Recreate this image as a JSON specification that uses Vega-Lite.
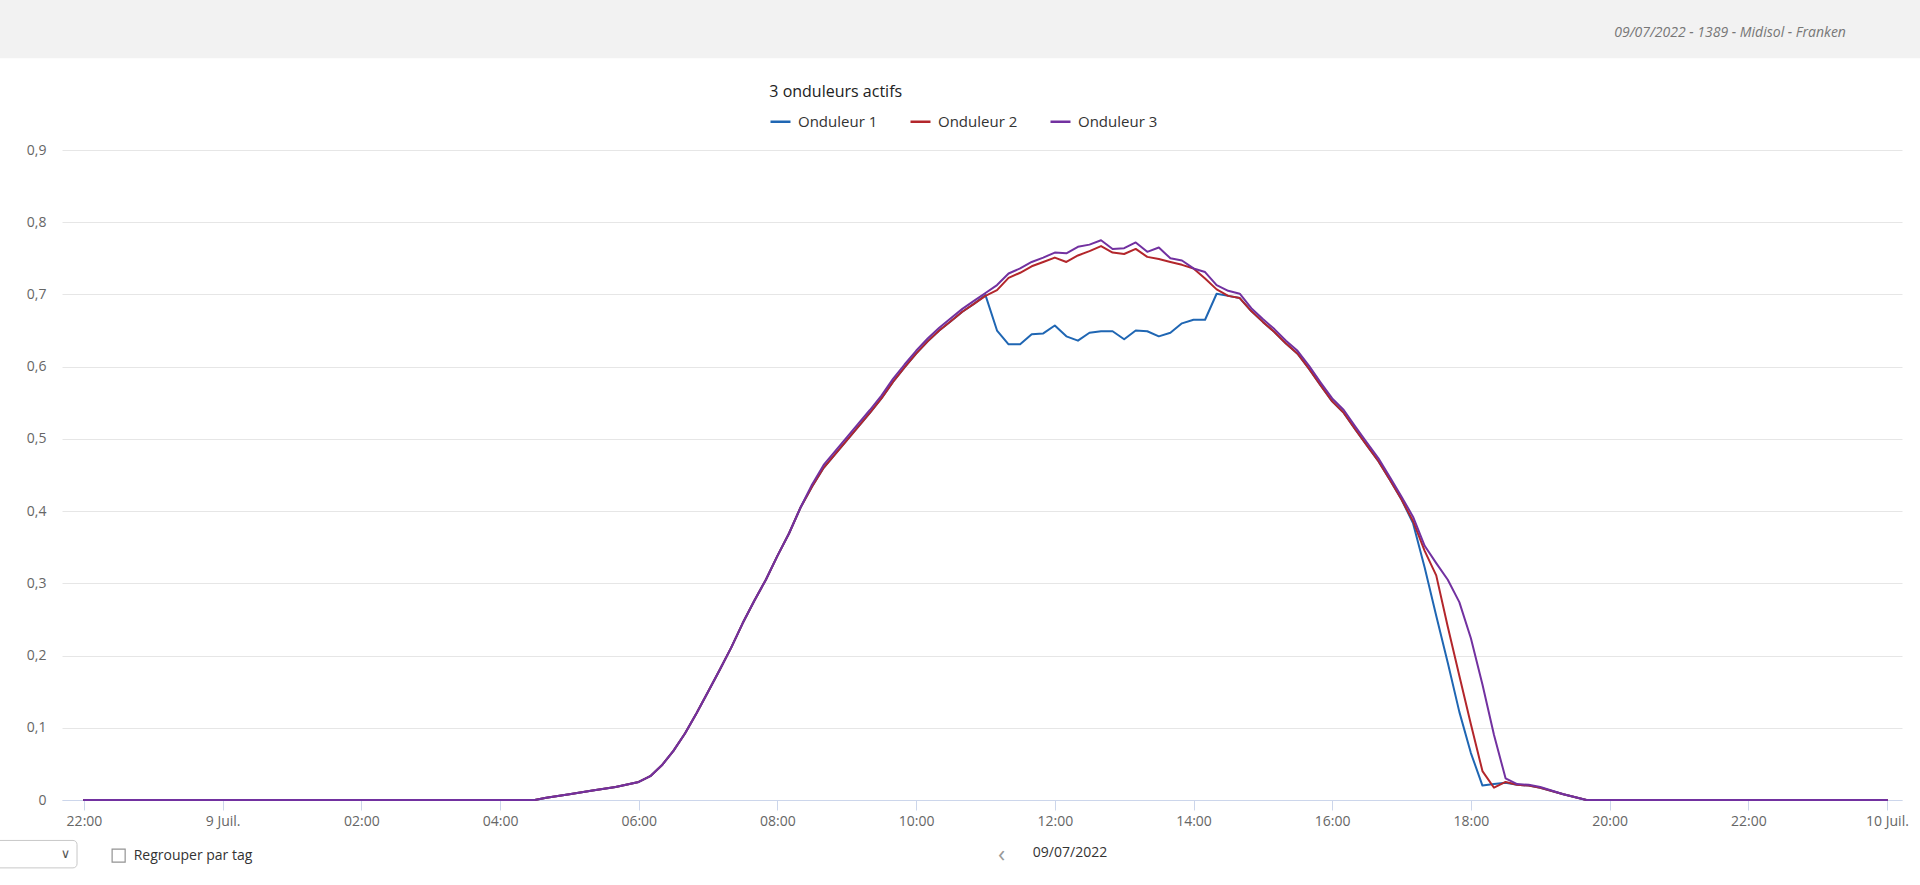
{
  "$schema": "https://vega.github.io/schema/vega-lite/v6.json",
  "width": 1840,
  "height": 650,
  "autosize": {"type": "none"},
  "padding": {"left": 62, "top": 150, "right": 18, "bottom": 85},
  "background": "white",
  "config": {
    "view": {"stroke": null},
    "font": "Open Sans",
    "locale": {
      "number": {"decimal": ",", "thousands": " ", "grouping": [3], "currency": ["", " €"]},
      "time": {
        "dateTime": "%A %e %B %Y à %X",
        "date": "%d/%m/%Y",
        "time": "%H:%M:%S",
        "periods": ["AM", "PM"],
        "days": ["dimanche", "lundi", "mardi", "mercredi", "jeudi", "vendredi", "samedi"],
        "shortDays": ["dim.", "lun.", "mar.", "mer.", "jeu.", "ven.", "sam."],
        "months": ["janvier", "février", "mars", "avril", "mai", "juin", "juillet", "août", "septembre", "octobre", "novembre", "décembre"],
        "shortMonths": ["Janv.", "Févr.", "Mars", "Avr.", "Mai", "Juin", "Juil.", "Août", "Sept.", "Oct.", "Nov.", "Déc."]
      }
    }
  },
  "data": {"values": [
    {"t": "2022-07-08T22:00Z", "s": "Onduleur 1", "v": 0},
    {"t": "2022-07-09T04:30Z", "s": "Onduleur 1", "v": 0},
    {"t": "2022-07-09T04:40Z", "s": "Onduleur 1", "v": 0.003},
    {"t": "2022-07-09T05:00Z", "s": "Onduleur 1", "v": 0.008},
    {"t": "2022-07-09T05:20Z", "s": "Onduleur 1", "v": 0.013},
    {"t": "2022-07-09T05:40Z", "s": "Onduleur 1", "v": 0.018},
    {"t": "2022-07-09T06:00Z", "s": "Onduleur 1", "v": 0.025},
    {"t": "2022-07-09T06:10Z", "s": "Onduleur 1", "v": 0.033},
    {"t": "2022-07-09T06:20Z", "s": "Onduleur 1", "v": 0.048},
    {"t": "2022-07-09T06:30Z", "s": "Onduleur 1", "v": 0.068},
    {"t": "2022-07-09T06:40Z", "s": "Onduleur 1", "v": 0.092},
    {"t": "2022-07-09T06:50Z", "s": "Onduleur 1", "v": 0.120},
    {"t": "2022-07-09T07:00Z", "s": "Onduleur 1", "v": 0.150},
    {"t": "2022-07-09T07:10Z", "s": "Onduleur 1", "v": 0.180},
    {"t": "2022-07-09T07:20Z", "s": "Onduleur 1", "v": 0.211},
    {"t": "2022-07-09T07:30Z", "s": "Onduleur 1", "v": 0.245},
    {"t": "2022-07-09T07:40Z", "s": "Onduleur 1", "v": 0.276},
    {"t": "2022-07-09T07:50Z", "s": "Onduleur 1", "v": 0.305},
    {"t": "2022-07-09T08:00Z", "s": "Onduleur 1", "v": 0.338},
    {"t": "2022-07-09T08:10Z", "s": "Onduleur 1", "v": 0.369},
    {"t": "2022-07-09T08:20Z", "s": "Onduleur 1", "v": 0.405},
    {"t": "2022-07-09T08:30Z", "s": "Onduleur 1", "v": 0.434},
    {"t": "2022-07-09T08:40Z", "s": "Onduleur 1", "v": 0.460},
    {"t": "2022-07-09T08:50Z", "s": "Onduleur 1", "v": 0.479},
    {"t": "2022-07-09T09:00Z", "s": "Onduleur 1", "v": 0.498},
    {"t": "2022-07-09T09:10Z", "s": "Onduleur 1", "v": 0.517},
    {"t": "2022-07-09T09:20Z", "s": "Onduleur 1", "v": 0.536},
    {"t": "2022-07-09T09:30Z", "s": "Onduleur 1", "v": 0.556},
    {"t": "2022-07-09T09:40Z", "s": "Onduleur 1", "v": 0.579},
    {"t": "2022-07-09T09:50Z", "s": "Onduleur 1", "v": 0.599},
    {"t": "2022-07-09T10:00Z", "s": "Onduleur 1", "v": 0.618},
    {"t": "2022-07-09T10:10Z", "s": "Onduleur 1", "v": 0.635},
    {"t": "2022-07-09T10:20Z", "s": "Onduleur 1", "v": 0.650},
    {"t": "2022-07-09T10:30Z", "s": "Onduleur 1", "v": 0.663},
    {"t": "2022-07-09T10:40Z", "s": "Onduleur 1", "v": 0.676},
    {"t": "2022-07-09T10:50Z", "s": "Onduleur 1", "v": 0.687},
    {"t": "2022-07-09T11:00Z", "s": "Onduleur 1", "v": 0.699},
    {"t": "2022-07-09T11:10Z", "s": "Onduleur 1", "v": 0.650},
    {"t": "2022-07-09T11:20Z", "s": "Onduleur 1", "v": 0.631},
    {"t": "2022-07-09T11:30Z", "s": "Onduleur 1", "v": 0.631},
    {"t": "2022-07-09T11:40Z", "s": "Onduleur 1", "v": 0.645},
    {"t": "2022-07-09T11:50Z", "s": "Onduleur 1", "v": 0.646},
    {"t": "2022-07-09T12:00Z", "s": "Onduleur 1", "v": 0.657},
    {"t": "2022-07-09T12:10Z", "s": "Onduleur 1", "v": 0.642},
    {"t": "2022-07-09T12:20Z", "s": "Onduleur 1", "v": 0.636},
    {"t": "2022-07-09T12:30Z", "s": "Onduleur 1", "v": 0.647},
    {"t": "2022-07-09T12:40Z", "s": "Onduleur 1", "v": 0.649},
    {"t": "2022-07-09T12:50Z", "s": "Onduleur 1", "v": 0.649},
    {"t": "2022-07-09T13:00Z", "s": "Onduleur 1", "v": 0.638},
    {"t": "2022-07-09T13:10Z", "s": "Onduleur 1", "v": 0.650},
    {"t": "2022-07-09T13:20Z", "s": "Onduleur 1", "v": 0.649},
    {"t": "2022-07-09T13:30Z", "s": "Onduleur 1", "v": 0.642},
    {"t": "2022-07-09T13:40Z", "s": "Onduleur 1", "v": 0.647},
    {"t": "2022-07-09T13:50Z", "s": "Onduleur 1", "v": 0.660},
    {"t": "2022-07-09T14:00Z", "s": "Onduleur 1", "v": 0.665},
    {"t": "2022-07-09T14:10Z", "s": "Onduleur 1", "v": 0.665},
    {"t": "2022-07-09T14:20Z", "s": "Onduleur 1", "v": 0.701},
    {"t": "2022-07-09T14:30Z", "s": "Onduleur 1", "v": 0.698},
    {"t": "2022-07-09T14:40Z", "s": "Onduleur 1", "v": 0.695},
    {"t": "2022-07-09T14:50Z", "s": "Onduleur 1", "v": 0.677},
    {"t": "2022-07-09T15:00Z", "s": "Onduleur 1", "v": 0.662},
    {"t": "2022-07-09T15:10Z", "s": "Onduleur 1", "v": 0.648},
    {"t": "2022-07-09T15:20Z", "s": "Onduleur 1", "v": 0.632},
    {"t": "2022-07-09T15:30Z", "s": "Onduleur 1", "v": 0.618},
    {"t": "2022-07-09T15:40Z", "s": "Onduleur 1", "v": 0.597},
    {"t": "2022-07-09T15:50Z", "s": "Onduleur 1", "v": 0.574},
    {"t": "2022-07-09T16:00Z", "s": "Onduleur 1", "v": 0.552},
    {"t": "2022-07-09T16:10Z", "s": "Onduleur 1", "v": 0.536},
    {"t": "2022-07-09T16:20Z", "s": "Onduleur 1", "v": 0.513},
    {"t": "2022-07-09T16:30Z", "s": "Onduleur 1", "v": 0.491},
    {"t": "2022-07-09T16:40Z", "s": "Onduleur 1", "v": 0.469},
    {"t": "2022-07-09T16:50Z", "s": "Onduleur 1", "v": 0.443},
    {"t": "2022-07-09T17:00Z", "s": "Onduleur 1", "v": 0.416},
    {"t": "2022-07-09T17:10Z", "s": "Onduleur 1", "v": 0.383},
    {"t": "2022-07-09T17:20Z", "s": "Onduleur 1", "v": 0.322},
    {"t": "2022-07-09T17:30Z", "s": "Onduleur 1", "v": 0.255},
    {"t": "2022-07-09T17:40Z", "s": "Onduleur 1", "v": 0.190},
    {"t": "2022-07-09T17:50Z", "s": "Onduleur 1", "v": 0.122},
    {"t": "2022-07-09T18:00Z", "s": "Onduleur 1", "v": 0.065},
    {"t": "2022-07-09T18:10Z", "s": "Onduleur 1", "v": 0.020},
    {"t": "2022-07-09T18:20Z", "s": "Onduleur 1", "v": 0.022},
    {"t": "2022-07-09T18:30Z", "s": "Onduleur 1", "v": 0.024},
    {"t": "2022-07-09T18:40Z", "s": "Onduleur 1", "v": 0.021},
    {"t": "2022-07-09T18:50Z", "s": "Onduleur 1", "v": 0.020},
    {"t": "2022-07-09T19:00Z", "s": "Onduleur 1", "v": 0.017},
    {"t": "2022-07-09T19:20Z", "s": "Onduleur 1", "v": 0.008},
    {"t": "2022-07-09T19:40Z", "s": "Onduleur 1", "v": 0},
    {"t": "2022-07-10T00:00Z", "s": "Onduleur 1", "v": 0},
    {"t": "2022-07-08T22:00Z", "s": "Onduleur 2", "v": 0},
    {"t": "2022-07-09T04:30Z", "s": "Onduleur 2", "v": 0},
    {"t": "2022-07-09T04:40Z", "s": "Onduleur 2", "v": 0.003},
    {"t": "2022-07-09T05:00Z", "s": "Onduleur 2", "v": 0.008},
    {"t": "2022-07-09T05:20Z", "s": "Onduleur 2", "v": 0.013},
    {"t": "2022-07-09T05:40Z", "s": "Onduleur 2", "v": 0.018},
    {"t": "2022-07-09T06:00Z", "s": "Onduleur 2", "v": 0.025},
    {"t": "2022-07-09T06:10Z", "s": "Onduleur 2", "v": 0.033},
    {"t": "2022-07-09T06:20Z", "s": "Onduleur 2", "v": 0.048},
    {"t": "2022-07-09T06:30Z", "s": "Onduleur 2", "v": 0.068},
    {"t": "2022-07-09T06:40Z", "s": "Onduleur 2", "v": 0.092},
    {"t": "2022-07-09T06:50Z", "s": "Onduleur 2", "v": 0.120},
    {"t": "2022-07-09T07:00Z", "s": "Onduleur 2", "v": 0.150},
    {"t": "2022-07-09T07:10Z", "s": "Onduleur 2", "v": 0.180},
    {"t": "2022-07-09T07:20Z", "s": "Onduleur 2", "v": 0.211},
    {"t": "2022-07-09T07:30Z", "s": "Onduleur 2", "v": 0.245},
    {"t": "2022-07-09T07:40Z", "s": "Onduleur 2", "v": 0.276},
    {"t": "2022-07-09T07:50Z", "s": "Onduleur 2", "v": 0.305},
    {"t": "2022-07-09T08:00Z", "s": "Onduleur 2", "v": 0.338},
    {"t": "2022-07-09T08:10Z", "s": "Onduleur 2", "v": 0.369},
    {"t": "2022-07-09T08:20Z", "s": "Onduleur 2", "v": 0.405},
    {"t": "2022-07-09T08:30Z", "s": "Onduleur 2", "v": 0.434},
    {"t": "2022-07-09T08:40Z", "s": "Onduleur 2", "v": 0.460},
    {"t": "2022-07-09T08:50Z", "s": "Onduleur 2", "v": 0.479},
    {"t": "2022-07-09T09:00Z", "s": "Onduleur 2", "v": 0.498},
    {"t": "2022-07-09T09:10Z", "s": "Onduleur 2", "v": 0.517},
    {"t": "2022-07-09T09:20Z", "s": "Onduleur 2", "v": 0.536},
    {"t": "2022-07-09T09:30Z", "s": "Onduleur 2", "v": 0.556},
    {"t": "2022-07-09T09:40Z", "s": "Onduleur 2", "v": 0.579},
    {"t": "2022-07-09T09:50Z", "s": "Onduleur 2", "v": 0.599},
    {"t": "2022-07-09T10:00Z", "s": "Onduleur 2", "v": 0.618},
    {"t": "2022-07-09T10:10Z", "s": "Onduleur 2", "v": 0.635},
    {"t": "2022-07-09T10:20Z", "s": "Onduleur 2", "v": 0.650},
    {"t": "2022-07-09T10:30Z", "s": "Onduleur 2", "v": 0.663},
    {"t": "2022-07-09T10:40Z", "s": "Onduleur 2", "v": 0.676},
    {"t": "2022-07-09T10:50Z", "s": "Onduleur 2", "v": 0.687},
    {"t": "2022-07-09T11:00Z", "s": "Onduleur 2", "v": 0.698},
    {"t": "2022-07-09T11:10Z", "s": "Onduleur 2", "v": 0.706},
    {"t": "2022-07-09T11:20Z", "s": "Onduleur 2", "v": 0.723},
    {"t": "2022-07-09T11:30Z", "s": "Onduleur 2", "v": 0.730},
    {"t": "2022-07-09T11:40Z", "s": "Onduleur 2", "v": 0.739},
    {"t": "2022-07-09T11:50Z", "s": "Onduleur 2", "v": 0.745},
    {"t": "2022-07-09T12:00Z", "s": "Onduleur 2", "v": 0.751},
    {"t": "2022-07-09T12:10Z", "s": "Onduleur 2", "v": 0.745},
    {"t": "2022-07-09T12:20Z", "s": "Onduleur 2", "v": 0.754},
    {"t": "2022-07-09T12:30Z", "s": "Onduleur 2", "v": 0.760},
    {"t": "2022-07-09T12:40Z", "s": "Onduleur 2", "v": 0.767},
    {"t": "2022-07-09T12:50Z", "s": "Onduleur 2", "v": 0.758},
    {"t": "2022-07-09T13:00Z", "s": "Onduleur 2", "v": 0.756},
    {"t": "2022-07-09T13:10Z", "s": "Onduleur 2", "v": 0.763},
    {"t": "2022-07-09T13:20Z", "s": "Onduleur 2", "v": 0.752},
    {"t": "2022-07-09T13:30Z", "s": "Onduleur 2", "v": 0.749},
    {"t": "2022-07-09T13:40Z", "s": "Onduleur 2", "v": 0.745},
    {"t": "2022-07-09T13:50Z", "s": "Onduleur 2", "v": 0.741},
    {"t": "2022-07-09T14:00Z", "s": "Onduleur 2", "v": 0.736},
    {"t": "2022-07-09T14:10Z", "s": "Onduleur 2", "v": 0.722},
    {"t": "2022-07-09T14:20Z", "s": "Onduleur 2", "v": 0.707},
    {"t": "2022-07-09T14:30Z", "s": "Onduleur 2", "v": 0.698},
    {"t": "2022-07-09T14:40Z", "s": "Onduleur 2", "v": 0.695},
    {"t": "2022-07-09T14:50Z", "s": "Onduleur 2", "v": 0.677},
    {"t": "2022-07-09T15:00Z", "s": "Onduleur 2", "v": 0.662},
    {"t": "2022-07-09T15:10Z", "s": "Onduleur 2", "v": 0.648},
    {"t": "2022-07-09T15:20Z", "s": "Onduleur 2", "v": 0.632},
    {"t": "2022-07-09T15:30Z", "s": "Onduleur 2", "v": 0.618},
    {"t": "2022-07-09T15:40Z", "s": "Onduleur 2", "v": 0.597},
    {"t": "2022-07-09T15:50Z", "s": "Onduleur 2", "v": 0.574},
    {"t": "2022-07-09T16:00Z", "s": "Onduleur 2", "v": 0.552},
    {"t": "2022-07-09T16:10Z", "s": "Onduleur 2", "v": 0.536},
    {"t": "2022-07-09T16:20Z", "s": "Onduleur 2", "v": 0.513},
    {"t": "2022-07-09T16:30Z", "s": "Onduleur 2", "v": 0.491},
    {"t": "2022-07-09T16:40Z", "s": "Onduleur 2", "v": 0.469},
    {"t": "2022-07-09T16:50Z", "s": "Onduleur 2", "v": 0.443},
    {"t": "2022-07-09T17:00Z", "s": "Onduleur 2", "v": 0.416},
    {"t": "2022-07-09T17:10Z", "s": "Onduleur 2", "v": 0.386},
    {"t": "2022-07-09T17:20Z", "s": "Onduleur 2", "v": 0.345},
    {"t": "2022-07-09T17:30Z", "s": "Onduleur 2", "v": 0.311},
    {"t": "2022-07-09T17:40Z", "s": "Onduleur 2", "v": 0.240},
    {"t": "2022-07-09T17:50Z", "s": "Onduleur 2", "v": 0.172},
    {"t": "2022-07-09T18:00Z", "s": "Onduleur 2", "v": 0.105},
    {"t": "2022-07-09T18:10Z", "s": "Onduleur 2", "v": 0.040},
    {"t": "2022-07-09T18:20Z", "s": "Onduleur 2", "v": 0.017},
    {"t": "2022-07-09T18:30Z", "s": "Onduleur 2", "v": 0.025},
    {"t": "2022-07-09T18:40Z", "s": "Onduleur 2", "v": 0.021},
    {"t": "2022-07-09T18:50Z", "s": "Onduleur 2", "v": 0.020},
    {"t": "2022-07-09T19:00Z", "s": "Onduleur 2", "v": 0.017},
    {"t": "2022-07-09T19:20Z", "s": "Onduleur 2", "v": 0.008},
    {"t": "2022-07-09T19:40Z", "s": "Onduleur 2", "v": 0},
    {"t": "2022-07-10T00:00Z", "s": "Onduleur 2", "v": 0},
    {"t": "2022-07-08T22:00Z", "s": "Onduleur 3", "v": 0},
    {"t": "2022-07-09T04:30Z", "s": "Onduleur 3", "v": 0},
    {"t": "2022-07-09T04:40Z", "s": "Onduleur 3", "v": 0.003},
    {"t": "2022-07-09T05:00Z", "s": "Onduleur 3", "v": 0.008},
    {"t": "2022-07-09T05:20Z", "s": "Onduleur 3", "v": 0.013},
    {"t": "2022-07-09T05:40Z", "s": "Onduleur 3", "v": 0.018},
    {"t": "2022-07-09T06:00Z", "s": "Onduleur 3", "v": 0.025},
    {"t": "2022-07-09T06:10Z", "s": "Onduleur 3", "v": 0.033},
    {"t": "2022-07-09T06:20Z", "s": "Onduleur 3", "v": 0.048},
    {"t": "2022-07-09T06:30Z", "s": "Onduleur 3", "v": 0.068},
    {"t": "2022-07-09T06:40Z", "s": "Onduleur 3", "v": 0.092},
    {"t": "2022-07-09T06:50Z", "s": "Onduleur 3", "v": 0.120},
    {"t": "2022-07-09T07:00Z", "s": "Onduleur 3", "v": 0.150},
    {"t": "2022-07-09T07:10Z", "s": "Onduleur 3", "v": 0.180},
    {"t": "2022-07-09T07:20Z", "s": "Onduleur 3", "v": 0.211},
    {"t": "2022-07-09T07:30Z", "s": "Onduleur 3", "v": 0.245},
    {"t": "2022-07-09T07:40Z", "s": "Onduleur 3", "v": 0.276},
    {"t": "2022-07-09T07:50Z", "s": "Onduleur 3", "v": 0.305},
    {"t": "2022-07-09T08:00Z", "s": "Onduleur 3", "v": 0.338},
    {"t": "2022-07-09T08:10Z", "s": "Onduleur 3", "v": 0.369},
    {"t": "2022-07-09T08:20Z", "s": "Onduleur 3", "v": 0.405},
    {"t": "2022-07-09T08:30Z", "s": "Onduleur 3", "v": 0.437},
    {"t": "2022-07-09T08:40Z", "s": "Onduleur 3", "v": 0.464},
    {"t": "2022-07-09T08:50Z", "s": "Onduleur 3", "v": 0.483},
    {"t": "2022-07-09T09:00Z", "s": "Onduleur 3", "v": 0.502},
    {"t": "2022-07-09T09:10Z", "s": "Onduleur 3", "v": 0.521},
    {"t": "2022-07-09T09:20Z", "s": "Onduleur 3", "v": 0.540},
    {"t": "2022-07-09T09:30Z", "s": "Onduleur 3", "v": 0.560},
    {"t": "2022-07-09T09:40Z", "s": "Onduleur 3", "v": 0.583},
    {"t": "2022-07-09T09:50Z", "s": "Onduleur 3", "v": 0.603},
    {"t": "2022-07-09T10:00Z", "s": "Onduleur 3", "v": 0.622},
    {"t": "2022-07-09T10:10Z", "s": "Onduleur 3", "v": 0.639},
    {"t": "2022-07-09T10:20Z", "s": "Onduleur 3", "v": 0.654},
    {"t": "2022-07-09T10:30Z", "s": "Onduleur 3", "v": 0.667},
    {"t": "2022-07-09T10:40Z", "s": "Onduleur 3", "v": 0.680},
    {"t": "2022-07-09T10:50Z", "s": "Onduleur 3", "v": 0.691},
    {"t": "2022-07-09T11:00Z", "s": "Onduleur 3", "v": 0.702},
    {"t": "2022-07-09T11:10Z", "s": "Onduleur 3", "v": 0.713},
    {"t": "2022-07-09T11:20Z", "s": "Onduleur 3", "v": 0.729},
    {"t": "2022-07-09T11:30Z", "s": "Onduleur 3", "v": 0.736},
    {"t": "2022-07-09T11:40Z", "s": "Onduleur 3", "v": 0.745},
    {"t": "2022-07-09T11:50Z", "s": "Onduleur 3", "v": 0.751},
    {"t": "2022-07-09T12:00Z", "s": "Onduleur 3", "v": 0.758},
    {"t": "2022-07-09T12:10Z", "s": "Onduleur 3", "v": 0.757},
    {"t": "2022-07-09T12:20Z", "s": "Onduleur 3", "v": 0.766},
    {"t": "2022-07-09T12:30Z", "s": "Onduleur 3", "v": 0.769},
    {"t": "2022-07-09T12:40Z", "s": "Onduleur 3", "v": 0.775},
    {"t": "2022-07-09T12:50Z", "s": "Onduleur 3", "v": 0.763},
    {"t": "2022-07-09T13:00Z", "s": "Onduleur 3", "v": 0.764},
    {"t": "2022-07-09T13:10Z", "s": "Onduleur 3", "v": 0.772},
    {"t": "2022-07-09T13:20Z", "s": "Onduleur 3", "v": 0.759},
    {"t": "2022-07-09T13:30Z", "s": "Onduleur 3", "v": 0.765},
    {"t": "2022-07-09T13:40Z", "s": "Onduleur 3", "v": 0.750},
    {"t": "2022-07-09T13:50Z", "s": "Onduleur 3", "v": 0.747},
    {"t": "2022-07-09T14:00Z", "s": "Onduleur 3", "v": 0.736},
    {"t": "2022-07-09T14:10Z", "s": "Onduleur 3", "v": 0.731},
    {"t": "2022-07-09T14:20Z", "s": "Onduleur 3", "v": 0.713},
    {"t": "2022-07-09T14:30Z", "s": "Onduleur 3", "v": 0.705},
    {"t": "2022-07-09T14:40Z", "s": "Onduleur 3", "v": 0.701},
    {"t": "2022-07-09T14:50Z", "s": "Onduleur 3", "v": 0.681},
    {"t": "2022-07-09T15:00Z", "s": "Onduleur 3", "v": 0.666},
    {"t": "2022-07-09T15:10Z", "s": "Onduleur 3", "v": 0.652},
    {"t": "2022-07-09T15:20Z", "s": "Onduleur 3", "v": 0.636},
    {"t": "2022-07-09T15:30Z", "s": "Onduleur 3", "v": 0.622},
    {"t": "2022-07-09T15:40Z", "s": "Onduleur 3", "v": 0.601},
    {"t": "2022-07-09T15:50Z", "s": "Onduleur 3", "v": 0.578},
    {"t": "2022-07-09T16:00Z", "s": "Onduleur 3", "v": 0.556},
    {"t": "2022-07-09T16:10Z", "s": "Onduleur 3", "v": 0.540},
    {"t": "2022-07-09T16:20Z", "s": "Onduleur 3", "v": 0.517},
    {"t": "2022-07-09T16:30Z", "s": "Onduleur 3", "v": 0.495},
    {"t": "2022-07-09T16:40Z", "s": "Onduleur 3", "v": 0.473},
    {"t": "2022-07-09T16:50Z", "s": "Onduleur 3", "v": 0.447},
    {"t": "2022-07-09T17:00Z", "s": "Onduleur 3", "v": 0.420},
    {"t": "2022-07-09T17:10Z", "s": "Onduleur 3", "v": 0.392},
    {"t": "2022-07-09T17:20Z", "s": "Onduleur 3", "v": 0.352},
    {"t": "2022-07-09T17:30Z", "s": "Onduleur 3", "v": 0.328},
    {"t": "2022-07-09T17:40Z", "s": "Onduleur 3", "v": 0.305},
    {"t": "2022-07-09T17:50Z", "s": "Onduleur 3", "v": 0.274},
    {"t": "2022-07-09T18:00Z", "s": "Onduleur 3", "v": 0.224},
    {"t": "2022-07-09T18:10Z", "s": "Onduleur 3", "v": 0.160},
    {"t": "2022-07-09T18:20Z", "s": "Onduleur 3", "v": 0.090},
    {"t": "2022-07-09T18:30Z", "s": "Onduleur 3", "v": 0.030},
    {"t": "2022-07-09T18:40Z", "s": "Onduleur 3", "v": 0.022},
    {"t": "2022-07-09T18:50Z", "s": "Onduleur 3", "v": 0.021},
    {"t": "2022-07-09T19:00Z", "s": "Onduleur 3", "v": 0.018},
    {"t": "2022-07-09T19:20Z", "s": "Onduleur 3", "v": 0.008},
    {"t": "2022-07-09T19:40Z", "s": "Onduleur 3", "v": 0},
    {"t": "2022-07-10T00:00Z", "s": "Onduleur 3", "v": 0}
  ]},
  "layer": [
    {
      "mark": {"type": "line", "strokeWidth": 2, "strokeJoin": "round", "strokeCap": "round"},
      "encoding": {
        "x": {
          "field": "t", "type": "temporal", "title": null,
          "scale": {"type": "utc", "domain": [1657316460000, 1657411980000], "nice": false},
          "axis": {
            "values": [1657317600000, 1657324800000, 1657332000000, 1657339200000, 1657346400000, 1657353600000, 1657360800000, 1657368000000, 1657375200000, 1657382400000, 1657389600000, 1657396800000, 1657404000000, 1657411200000],
            "format": {"hours": "%H:%M", "date": "%-d %b", "week": "%-d %b", "month": "%-d %b"},
            "grid": false,
            "domainColor": "#ccd6eb",
            "tickColor": "#ccd6eb",
            "tickSize": 10,
            "labelPadding": 4,
            "labelFontSize": 14,
            "labelColor": "#666666",
            "labelFlush": false,
            "labelOverlap": false
          }
        },
        "y": {
          "field": "v", "type": "quantitative", "title": null,
          "scale": {"domain": [0, 0.9], "nice": false},
          "axis": {
            "values": [0, 0.1, 0.2, 0.3, 0.4, 0.5, 0.6, 0.7, 0.8, 0.9],
            "format": ".1~f",
            "domain": false,
            "ticks": false,
            "tickSize": 0,
            "labelPadding": 16,
            "gridColor": "#e6e6e6",
            "labelFontSize": 14,
            "labelColor": "#666666"
          }
        },
        "color": {
          "field": "s", "type": "nominal",
          "scale": {"domain": ["Onduleur 1", "Onduleur 2", "Onduleur 3"], "range": ["#1f66b3", "#b3262b", "#7231a0"]},
          "legend": {
            "title": null,
            "orient": "none",
            "legendX": 707,
            "legendY": -40,
            "direction": "horizontal",
            "symbolType": "stroke",
            "symbolStrokeWidth": 2.5,
            "symbolSize": 400,
            "labelFontSize": 15,
            "labelColor": "#333333",
            "labelOffset": 6,
            "columnPadding": 27
          }
        }
      }
    },
    {
      "data": {"values": [{"k": "header"}]},
      "mark": {"type": "rect", "color": "#f2f2f2", "clip": false},
      "encoding": {
        "x": {"datum": 1657310400000, "type": "temporal"},
        "x2": {"datum": 1657414800000},
        "y": {"datum": 1.027, "type": "quantitative"},
        "y2": {"datum": 1.13}
      }
    },
    {
      "data": {"values": [{"k": "subtitle"}]},
      "mark": {"type": "text", "text": "09/07/2022 - 1389 - Midisol - Franken", "fontStyle": "italic", "color": "#777777", "fontSize": 14, "align": "left", "baseline": "middle", "clip": false},
      "encoding": {
        "x": {"datum": 1657397040000, "type": "temporal"},
        "y": {"datum": 1.062, "type": "quantitative"}
      }
    },
    {
      "data": {"values": [{"k": "title"}]},
      "mark": {"type": "text", "text": "3 onduleurs actifs", "color": "#222222", "fontSize": 16, "align": "left", "baseline": "middle", "clip": false},
      "encoding": {
        "x": {"datum": 1657353180000, "type": "temporal"},
        "y": {"datum": 0.98, "type": "quantitative"}
      }
    },
    {
      "data": {"values": [{"k": "select"}]},
      "mark": {"type": "rect", "fill": "white", "stroke": "#c8c8c8", "strokeWidth": 1, "cornerRadius": 4, "clip": false},
      "encoding": {
        "x": {"datum": 1657310400000, "type": "temporal"},
        "x2": {"datum": 1657317240000},
        "y": {"datum": -0.056, "type": "quantitative"},
        "y2": {"datum": -0.094}
      }
    },
    {
      "data": {"values": [{"k": "chevron"}]},
      "mark": {"type": "text", "text": "∨", "font": "DejaVu Sans", "color": "#555555", "fontSize": 13, "align": "center", "baseline": "middle", "clip": false},
      "encoding": {
        "x": {"datum": 1657316640000, "type": "temporal"},
        "y": {"datum": -0.075, "type": "quantitative"}
      }
    },
    {
      "data": {"values": [{"k": "checkbox"}]},
      "mark": {"type": "point", "shape": "square", "filled": false, "stroke": "#666666", "strokeWidth": 1.2, "size": 170, "clip": false},
      "encoding": {
        "x": {"datum": 1657319400000, "type": "temporal"},
        "y": {"datum": -0.077, "type": "quantitative"}
      }
    },
    {
      "data": {"values": [{"k": "group"}]},
      "mark": {"type": "text", "text": "Regrouper par tag", "color": "#333333", "fontSize": 14, "align": "left", "baseline": "middle", "clip": false},
      "encoding": {
        "x": {"datum": 1657320180000, "type": "temporal"},
        "y": {"datum": -0.077, "type": "quantitative"}
      }
    },
    {
      "data": {"values": [{"k": "prev"}]},
      "mark": {"type": "text", "text": "‹", "color": "#999999", "fontSize": 24, "align": "center", "baseline": "middle", "clip": false},
      "encoding": {
        "x": {"datum": 1657365240000, "type": "temporal"},
        "y": {"datum": -0.076, "type": "quantitative"}
      }
    },
    {
      "data": {"values": [{"k": "day"}]},
      "mark": {"type": "text", "text": "09/07/2022", "color": "#333333", "fontSize": 14, "align": "left", "baseline": "middle", "clip": false},
      "encoding": {
        "x": {"datum": 1657366860000, "type": "temporal"},
        "y": {"datum": -0.074, "type": "quantitative"}
      }
    }
  ]
}
